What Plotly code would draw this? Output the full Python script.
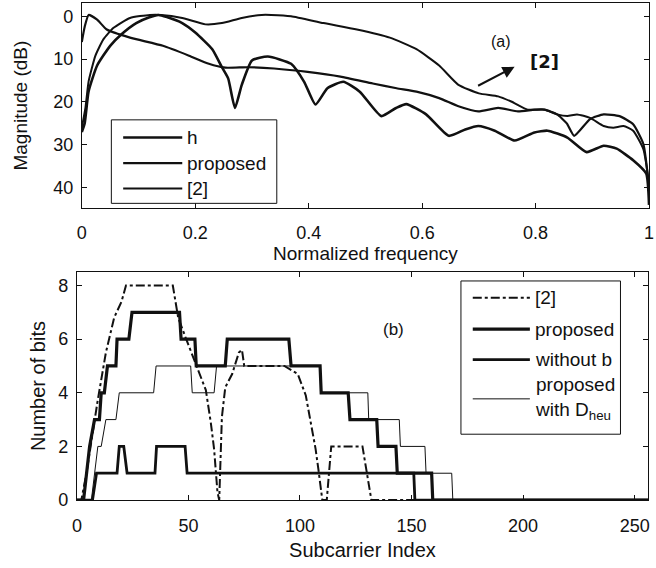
import plotly.graph_objects as go

# ---------------- (a) magnitude responses ----------------
h_freq = [0, 0.005, 0.012, 0.027, 0.05, 0.07, 0.096, 0.118, 0.135, 0.15, 0.177, 0.2, 0.23, 0.247,
          0.258, 0.27, 0.282, 0.3, 0.328, 0.369, 0.392, 0.412, 0.433, 0.461, 0.49, 0.528, 0.554,
          0.572, 0.607, 0.647, 0.676, 0.699, 0.728, 0.763, 0.798, 0.821, 0.856, 0.89, 0.92, 0.943,
          0.972, 0.995, 1.0]
h_db = [27, 25, 17.5, 11.5, 6.9, 4.2, 1.6, 0.3, -0.3, 0.2, 1.6, 3.8, 7.7, 11.9,
        14.5, 21.4, 16, 10.3, 9.4, 11.1, 15.3, 20.6, 16.8, 15.3, 17.6, 23.3, 21.4,
        20.5, 22.9, 27.9, 26.4, 25.6, 26.7, 29, 27.1, 26.7, 28.3, 31.7, 30.2, 30.9,
        33.6, 36.7, 44]

prop_freq = [0, 0.005, 0.012, 0.027, 0.044, 0.085, 0.143, 0.189, 0.224, 0.253, 0.293, 0.339,
             0.398, 0.456, 0.513, 0.555, 0.59, 0.63, 0.664, 0.699, 0.734, 0.769, 0.798, 0.816,
             0.838, 0.855, 0.868, 0.896, 0.92, 0.948, 0.972, 0.99, 1.0]
prop_db = [6, 2.5, -0.3, 0.8, 3.1, 5, 6.9, 9.2, 11.1, 12, 11.9, 12.2,
           13, 14.1, 15.7, 16.8, 17.6, 19.1, 21, 22.2, 21.4, 22.2, 21.8, 21.8,
           22.9, 25, 27.9, 24, 22.9, 23.3, 25.2, 29.8, 40]

ref_freq = [0, 0.0064, 0.012, 0.024, 0.038, 0.056, 0.085, 0.12, 0.14, 0.177, 0.218, 0.247, 0.282,
            0.317, 0.334, 0.369, 0.426, 0.485, 0.543, 0.59, 0.63, 0.664, 0.7, 0.734, 0.757, 0.786,
            0.816, 0.838, 0.856, 0.873, 0.896, 0.92, 0.937, 0.955, 0.972, 0.99, 1.0]
ref_db = [26, 21.4, 15.2, 9.2, 5.4, 2.7, 0.4, -0.3, -0.3, 0.4, 1.9, 1.6, 0.4,
          -0.3, -0.3, 0, 1.6, 3.1, 5, 7.7, 11.5, 16, 18, 18.7, 19.9, 21.8,
          21.8, 22.9, 23.3, 22.9, 23.7, 25.6, 26, 25.6, 26.7, 31, 39]

# ---------------- (b) bit allocations ----------------
ref_sc = [0, 2, 4.3, 9.3, 13, 16.7, 20, 22, 43, 45.4, 49, 57.8, 60, 61.5, 63, 63.8, 65, 66.5,
          69.6, 72.6, 74, 75, 93, 99, 102.6, 104.8, 107, 108.4, 110, 112, 114, 128, 132, 256]
ref_bits = [0, 0, 1, 3.7, 5.5, 6.8, 7.4, 8, 8, 6.8, 6, 4.1, 2.9, 1.9, 0.3, 0, 3.1, 4.2,
            4.7, 5.5, 5.6, 5, 5, 4.7, 3.9, 2.9, 1.9, 1.05, 0, 0, 2, 2, 0, 0]

prop_sc = [0, 3, 5.7, 7.9, 10.1, 10.9, 12.3, 13.7, 17.5, 18, 23.3, 24.7, 46, 46.7, 52.9, 53.5,
           66.5, 67.4, 95, 96, 109, 109.5, 121.6, 122.4, 134.4, 135, 143, 143.6, 159, 159.5, 256]
prop_bits = [0, 0, 2, 3, 3, 4, 4, 5, 5, 6, 6, 7, 7, 6, 6, 5,
             5, 6, 6, 5, 5, 4, 4, 3, 3, 2, 2, 1, 1, 0, 0]

nob_sc = [0, 7, 8.8, 18, 19, 21, 22.5, 35, 35.7, 48.5, 49.4, 151, 151.5, 256]
nob_bits = [0, 0, 1, 1, 2, 2, 1, 1, 2, 2, 1, 1, 0, 0]

heu_sc = [0, 6.5, 9.4, 10.9, 13, 17.5, 19, 34.4, 35.5, 51, 51.7, 61.5, 62.6, 109, 109.5,
          130.4, 130.8, 144.5, 145, 156, 156.5, 168, 168.5, 256]
heu_bits = [0, 0, 2, 2, 3, 3, 4, 4, 5, 5, 4, 4, 5, 5, 4,
            4, 3, 3, 2, 2, 1, 1, 0, 0]

top_xticks = [0, 0.2, 0.4, 0.6, 0.8, 1]
top_xtick_text = ["0", "0.2", "0.4", "0.6", "0.8", "1"]
top_yticks = [0, 10, 20, 30, 40]
bot_xticks = [0, 50, 100, 150, 200, 250]
bot_yticks = [0, 2, 4, 6, 8]

top_names = ["h", "proposed", "[2]"]
bot_names = ["[2]", "proposed", "without b", "proposed<br>with D<sub>heu</sub>"]

FONT = "Liberation Sans, Arial, sans-serif"
INK = "#111111"
W, H = 656, 568

top_styles = [dict(color=INK, width=2.6), dict(color=INK, width=2.2), dict(color=INK, width=2.0)]
bot_styles = [dict(color=INK, width=2, dash="dashdot"), dict(color=INK, width=3.2),
              dict(color=INK, width=2.8), dict(color=INK, width=1)]

fig = go.Figure()

for xs, ys, nm, st in zip([h_freq, prop_freq, ref_freq], [h_db, prop_db, ref_db], top_names, top_styles):
    fig.add_trace(go.Scatter(x=xs, y=ys, mode="lines", name=nm, showlegend=False,
                             line=dict(shape="spline", smoothing=0.5, **st),
                             xaxis="x", yaxis="y"))

for xs, ys, nm, st in zip([ref_sc, prop_sc, nob_sc, heu_sc], [ref_bits, prop_bits, nob_bits, heu_bits],
                          bot_names, bot_styles):
    fig.add_trace(go.Scatter(x=xs, y=ys, mode="lines", name=nm, showlegend=False,
                             line=st, xaxis="x2", yaxis="y2"))

axis_common = dict(showline=True, linecolor=INK, linewidth=1, mirror="ticks", ticks="inside",
                   ticklen=5, tickcolor=INK, showgrid=False, zeroline=False,
                   ticklabeloverflow="allow",
                   tickfont=dict(family=FONT, size=18, color=INK))

fig.update_layout(
    width=W, height=H, autosize=False,
    margin=dict(l=0, r=0, t=0, b=0),
    paper_bgcolor="white", plot_bgcolor="white",
    font=dict(family=FONT, color=INK),
    showlegend=False,
    xaxis=dict(domain=[78 / W, 654 / W], range=[0, 1], tickvals=top_xticks,
               ticktext=top_xtick_text, ticklabelstandoff=8,
               title=dict(text="Normalized frequency", font=dict(size=19), standoff=4),
               anchor="y", **axis_common),
    yaxis=dict(domain=[1 - 212 / H, 1 - 3 / H], range=[44.8, -3.1], tickvals=top_yticks,
               ticklabelstandoff=4,
               title=dict(text="Magnitude (dB)", font=dict(size=19), standoff=20),
               anchor="x", **axis_common),
    xaxis2=dict(domain=[73 / W, 653 / W], range=[0, 256], tickvals=bot_xticks,
                ticklabelstandoff=9,
                title=dict(text="Subcarrier Index", font=dict(size=20), standoff=8),
                anchor="y2", **axis_common),
    yaxis2=dict(domain=[1 - 509 / H, 1 - 277 / H], range=[0, 8.5], tickvals=bot_yticks,
                ticklabelstandoff=4,
                title=dict(text="Number of bits", font=dict(size=20), standoff=7),
                anchor="x2", **axis_common),
)


def px(x):
    return x / W


def py(y):
    return 1 - y / H


def legend_box(x0, y0, x1, y1, sx0, sx1, tx, rows, names, styles):
    fig.add_shape(type="rect", xref="paper", yref="paper", x0=px(x0), x1=px(x1), y0=py(y0), y1=py(y1),
                  line=dict(color=INK, width=1), fillcolor="white", layer="above")
    for ry, nm, st in zip(rows, names, styles):
        fig.add_shape(type="line", xref="paper", yref="paper", x0=px(sx0), x1=px(sx1), y0=py(ry), y1=py(ry),
                      line=st, layer="above")
        fig.add_annotation(x=px(tx), y=py(ry), xref="paper", yref="paper", text=nm, showarrow=False,
                           xanchor="left", yanchor="middle", align="left",
                           font=dict(family=FONT, size=19, color=INK))


legend_box(108, 122, 276, 207, 120, 180, 183, [140, 166, 192], top_names, top_styles)
legend_box(463, 286, 625, 442, 475, 533, 536, [303, 335, 366, 406], bot_names, bot_styles)

fig.add_annotation(x=0.739, y=5.85, xref="x", yref="y", text="(a)", showarrow=False,
                   font=dict(family=FONT, size=16, color=INK))
fig.add_annotation(x=0.763, y=11.8, ax=0.696, ay=16.4, xref="x", yref="y", axref="x", ayref="y",
                   text="", showarrow=True, arrowhead=2, arrowsize=1.2, arrowwidth=2, arrowcolor=INK)
fig.add_annotation(x=0.815, y=10.5, xref="x", yref="y", text="<b>[2]</b>", showarrow=False,
                   font=dict(family="DejaVu Sans", size=18, color=INK))
fig.add_annotation(x=142, y=6.37, xref="x2", yref="y2", text="(b)", showarrow=False,
                   font=dict(family=FONT, size=17, color=INK))

fig.write_html("out.html")
